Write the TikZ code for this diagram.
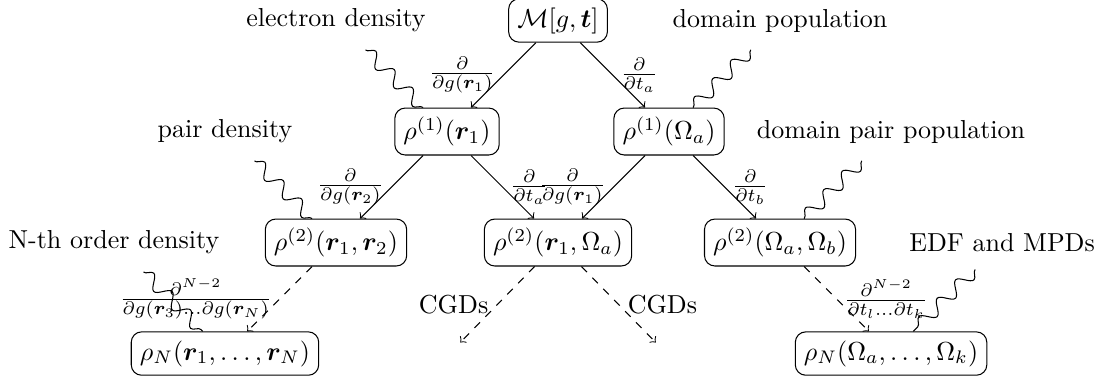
\documentclass[tikz,border=0pt]{standalone}
\usepackage{amsmath}
\usepackage{bm}
\usetikzlibrary{decorations.pathmorphing}
\tikzset{
  box/.style={draw, rounded corners},
  lab/.style={outer sep=3.5pt},
  elab/.style={inner sep=2.8pt},
  arr/.style={->},
  darr/.style={->, dashed},
  wavy/.style={decorate, decoration={snake}},
}
\begin{document}
\begin{tikzpicture}
\useasboundingbox (-7.54,-4.87) rectangle (7.35,0.277);
% main nodes
\node[box] (M) at (0,0) {$\mathcal{M}[g,\bm t]$};
\node[box] (r1) at (-1.5,-1.5) {$\rho^{(1)}(\bm r_1)$};
\node[box] (o1) at (1.5,-1.5) {$\rho^{(1)}(\Omega_a)$};
\node[box] (rr) at (-3,-3) {$\rho^{(2)}(\bm r_1,\bm r_2)$};
\node[box] (ro) at (0,-3) {$\rho^{(2)}(\bm r_1,\Omega_a)$};
\node[box] (oo) at (3,-3) {$\rho^{(2)}(\Omega_a,\Omega_b)$};
\node[box] (rN) at (-4.5,-4.5) {$\rho_N(\bm r_1,\dots,\bm r_N)$};
\node[box] (oN) at (4.5,-4.5) {$\rho_N(\Omega_a,\dots,\Omega_k)$};
% labels
\node[lab] (ed) at (-3,0) {electron density};
\node[lab] (dp) at (3,0) {domain population};
\node[lab] (pd) at (-4.5,-1.5) {pair density};
\node[lab] (dpp) at (4.5,-1.5) {domain pair population};
\node[lab] (nod) at (-6,-3) {N-th order density};
\node[lab] (edf) at (6,-3) {EDF and MPDs};
\coordinate (cl) at (-1.32,-4.35);
\coordinate (cr) at (1.32,-4.35);
% arrows
\draw[arr] (M) -- (r1) node[midway,left,elab] {$\frac{\partial}{\partial g(\bm r_1)}$};
\draw[arr] (M) -- (o1) node[midway,right,elab] {$\frac{\partial}{\partial t_a}$};
\draw[arr] (r1) -- (rr) node[midway,left,elab] {$\frac{\partial}{\partial g(\bm r_2)}$};
\draw[arr] (r1) -- (ro) node[midway,right,elab] {$\frac{\partial}{\partial t_a}$};
\draw[arr] (o1) -- (ro) node[midway,left,elab] {$\frac{\partial}{\partial g(\bm r_1)}$};
\draw[arr] (o1) -- (oo) node[midway,right,elab] {$\frac{\partial}{\partial t_b}$};
\draw[darr] (rr) -- (rN) node[midway,left,elab] {$\frac{\partial^{N-2}}{\partial g(\bm r_3)...\partial g(\bm r_N)}$};
\draw[darr] (oo) -- (oN) node[midway,right,elab] {$\frac{\partial^{N-2}}{\partial t_l...\partial t_k}$};
\draw[darr] (ro) -- (cl) node[midway,left] {CGDs};
\draw[darr] (ro) -- (cr) node[midway,right] {CGDs};
% snakes
\draw[wavy] (ed) -- (r1);
\draw[wavy] (dp) -- (o1);
\draw[wavy] (pd) -- (rr);
\draw[wavy] (dpp) -- (oo);
\draw[wavy] (nod) -- (rN);
\draw[wavy] (edf) -- (oN);
\end{tikzpicture}
\end{document}
